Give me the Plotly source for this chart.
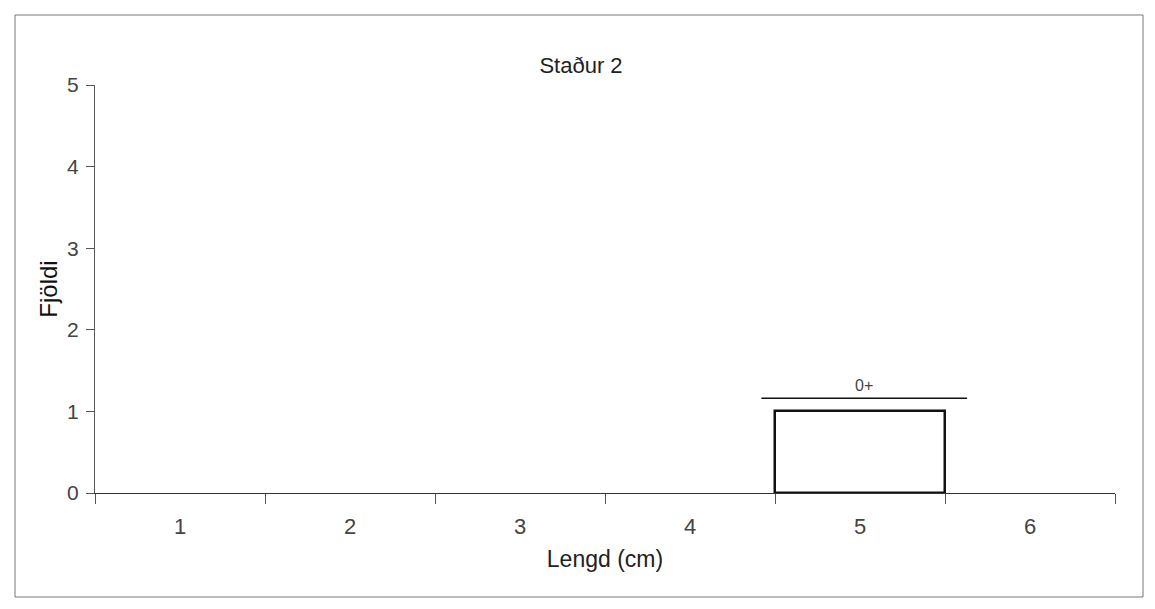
import plotly.graph_objects as go

lengths = ["1", "2", "3", "4", "5", "6"]
counts = [0, 0, 0, 0, 1, 0]
age_labels = ["0+"]
age_first_len = ["5"]
age_last_len = ["5"]

# the page body adds an 8px offset, so figure coords = screen coords - 8
W, H = 1147, 601
ml, mr, mt, mb = 87, 40, 77, 116
pw, ph = W - ml - mr, H - mt - mb

fig = go.Figure()
fig.add_trace(go.Bar(
    x=lengths, y=counts,
    marker=dict(color="white", line=dict(color="#111111", width=2.5)),
    width=[1.0 if c > 0 else 0.0 for c in counts],
    showlegend=False,
))

font = "Liberation Sans, Arial, sans-serif"

shapes = []
annotations = []
for lab, a, b in zip(age_labels, age_first_len, age_last_len):
    i0 = lengths.index(a) - 0.58
    i1 = lengths.index(b) + 0.63
    shapes.append(dict(type="line", xref="x", yref="y", x0=i0, x1=i1, y0=1.16, y1=1.16,
                       line=dict(color="#111111", width=1.5)))
    annotations.append(dict(x=(i0 + i1) / 2, y=1.19, xref="x", yref="y", text=lab,
                            showarrow=False, yanchor="bottom",
                            font=dict(family=font, size=16, color="#444444")))

# outer frame
shapes.append(dict(type="rect", xref="paper", yref="paper",
                   x0=(7 - ml) / pw, x1=(1135 - ml) / pw,
                   y0=-(589 - (mt + ph)) / ph, y1=(mt + ph - 7) / ph,
                   line=dict(color="#777777", width=1)))

fig.update_layout(
    width=W, height=H,
    margin=dict(l=ml, r=mr, t=mt, b=mb, autoexpand=False),
    paper_bgcolor="white", plot_bgcolor="white",
    bargap=0,
    title=dict(text="Staður 2", x=573 / W, xanchor="center", y=1 - 57 / H, yanchor="middle",
               font=dict(family=font, size=22, color="#222222")),
    font=dict(family=font, color="#333333"),
    shapes=shapes, annotations=annotations,
    xaxis=dict(type="category", range=[-0.5, 5.5], tickson="boundaries",
               ticks="outside", ticklen=10, tickcolor="#555555",
               ticklabelstandoff=14,
               showline=True, linecolor="#333333", linewidth=1,
               showgrid=False, tickfont=dict(size=22, color="#444444"),
               title=dict(text="Lengd (cm)", font=dict(size=23, color="#222222"), standoff=12)),
    yaxis=dict(range=[0, 5], tickvals=[0, 1, 2, 3, 4, 5], ticks="outside", ticklen=8,
               tickcolor="#555555", showline=True, linecolor="#555555", linewidth=1,
               ticklabelstandoff=3,
               showgrid=False, zeroline=False, tickfont=dict(size=21, color="#444444"),
               title=dict(text="Fjöldi", font=dict(size=24, color="#111111"), standoff=2)),
)

fig.write_html("out.html")
